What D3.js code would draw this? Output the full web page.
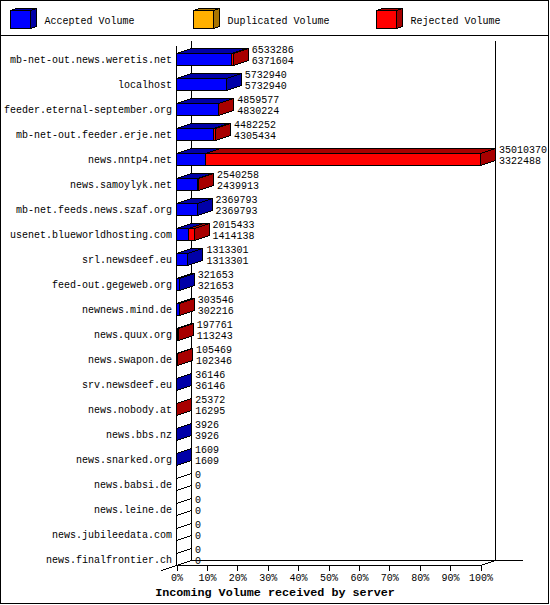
<!DOCTYPE html>
<html>
<head>
<meta charset="utf-8">
<script src="https://cdn.jsdelivr.net/npm/d3@7"></script>
<style>
  html, body { margin: 0; padding: 0; background: #fff; }
  svg { display: block; }
  text { font-family: "Liberation Mono", "DejaVu Sans Mono", monospace; font-size: 10px; fill: #000; }
</style>
</head>
<body>
<div id="grafico"></div>
<script>
const servers = ["mb-net-out.news.weretis.net", "localhost", "feeder.eternal-september.org",
                 "mb-net-out.feeder.erje.net", "news.nntp4.net", "news.samoylyk.net",
                 "mb-net.feeds.news.szaf.org", "usenet.blueworldhosting.com", "srl.newsdeef.eu",
                 "feed-out.gegeweb.org", "newnews.mind.de", "news.quux.org", "news.swapon.de",
                 "srv.newsdeef.eu", "news.nobody.at", "news.bbs.nz", "news.snarked.org",
                 "news.babsi.de", "news.leine.de", "news.jubileedata.com", "news.finalfrontier.ch"];
const totalVolume = [6533286, 5732940, 4859577, 4482252, 35010370, 2540258, 2369793, 2015433, 1313301,
                     321653, 303546, 197761, 105469, 36146, 25372, 3926, 1609, 0, 0, 0, 0];
const acceptedVolume = [6371604, 5732940, 4830224, 4305434, 3322488, 2439913, 2369793, 1414138, 1313301,
                        321653, 302216, 113243, 102346, 36146, 16295, 3926, 1609, 0, 0, 0, 0];
const legendLabels = ["Accepted Volume", "Duplicated Volume", "Rejected Volume"];
const percentTicks = [0, 10, 20, 30, 40, 50, 60, 70, 80, 90, 100];

const blue = "#0000ff", blueDark = "#0000a8", red = "#ff0000", redDark = "#a80000";
const legendColors = [[blue, blueDark], ["#ffb000", "#a87400"], [red, redDark]];

const width = 550, height = 605;
const depthX = 15, depthY = 5;

const svg = d3.select("#grafico")
              .append("svg")
              .attr("width", width)
              .attr("height", height)
              .attr("shape-rendering", "crispEdges");

const xScale = d3.scaleLinear().domain([0, 100]).range([176.5, 480.5]);
const vScale = d3.scaleLinear().domain([0, d3.max(totalVolume)]).range([176.5, 480.5]);
const yScale = d3.scaleBand().domain(servers).range([47, 572]).paddingInner(0.52).paddingOuter(0.26);

// frame and legend
svg.append("rect").attr("x", 0.5).attr("y", 0.5).attr("width", 548).attr("height", 603)
   .attr("fill", "#fff").attr("stroke", "#000");
svg.append("line").attr("x1", 0).attr("x2", 549).attr("y1", 35.5).attr("y2", 35.5).attr("stroke", "#000");

function box(g, x, y, w, h, dx, dy, front, dark) {
    g.append("path").attr("d", `M${x},${y}L${x + dx},${y - dy}L${x + w + dx},${y - dy}L${x + w},${y}Z`)
     .attr("fill", dark).attr("stroke", "#000");
    g.append("path").attr("d", `M${x + w},${y}L${x + w + dx},${y - dy}L${x + w + dx},${y + h - dy}L${x + w},${y + h}Z`)
     .attr("fill", dark).attr("stroke", "#000");
    g.append("rect").attr("x", x).attr("y", y).attr("width", w).attr("height", h)
     .attr("fill", front).attr("stroke", "#000");
}

const legendX = d3.scaleOrdinal().domain(legendLabels).range([10.5, 193.5, 376.5]);
legendLabels.forEach((label, i) => {
    const g = svg.append("g");
    box(g, legendX(label), 10.5, 20, 18, 6, 2, legendColors[i][0], legendColors[i][1]);
    g.append("text").attr("x", legendX(label) + 34).attr("y", 24).text(label);
});

// back wall and floor
const wallTop = 40.5, floorBack = 560.5, floorFront = 565.5;
const backX = xScale(0) + depthX;
svg.append("line").attr("x1", backX).attr("x2", backX).attr("y1", wallTop).attr("y2", floorBack).attr("stroke", "#000");
svg.append("line").attr("x1", xScale(100) + depthX).attr("x2", xScale(100) + depthX)
   .attr("y1", wallTop).attr("y2", floorBack).attr("stroke", "#000");
svg.append("line").attr("x1", backX).attr("x2", 523).attr("y1", floorBack).attr("y2", floorBack).attr("stroke", "#000");
svg.append("line").attr("x1", xScale(0)).attr("x2", xScale(100)).attr("y1", floorFront).attr("y2", floorFront).attr("stroke", "#000");
svg.append("line").attr("x1", xScale(0)).attr("x2", xScale(0)).attr("y1", wallTop + depthY).attr("y2", floorFront).attr("stroke", "#000");
svg.append("line").attr("x1", xScale(0) - depthX).attr("x2", backX).attr("y1", floorFront + depthY).attr("y2", floorBack)
   .attr("stroke", "#000");
svg.append("line").attr("x1", xScale(100)).attr("x2", xScale(100) + depthX).attr("y1", floorFront).attr("y2", floorBack)
   .attr("stroke", "#000");

// x axis
const xAxis = d3.axisBottom(xScale).tickValues(percentTicks).tickFormat(d => d + "%").tickSize(5).tickPadding(3);
const axisG = svg.append("g").attr("transform", `translate(0, ${floorFront})`).call(xAxis);
axisG.select(".domain").remove();
axisG.attr("font-family", null).attr("font-size", null);

// bars, zero volumes collapse to a flat outline on the left wall
servers.forEach((s, i) => {
    const total = totalVolume[i], accepted = acceptedVolume[i];
    const y = yScale(s), h = yScale.bandwidth();
    const g = svg.append("g");
    const x0 = xScale(0);
    const xA = Math.round(vScale(accepted) - 0.5) + 0.5;
    const xT = Math.round(vScale(total) - 0.5) + 0.5;
    if (total > 0) {
        box(g, x0, y, xA - x0, h, depthX, depthY, blue, blueDark);
        if (total > accepted) box(g, xA, y, xT - xA, h, depthX, depthY, red, redDark);
    } else {
        box(g, x0, y, 0, h, depthX, depthY, "none", "none");
    }
    const lx = vScale(total) + depthX + 3.5;
    g.append("text").attr("x", lx).attr("y", y - 0.5).text(total);
    g.append("text").attr("x", lx).attr("y", y + 10.5).text(accepted);
    svg.append("text").attr("x", 172).attr("y", y + 9.5).attr("text-anchor", "end").text(s);
});

svg.append("text").attr("x", 275).attr("y", 596).attr("text-anchor", "middle")
   .style("font-weight", "bold").style("font-size", "11.75px")
   .text("Incoming Volume received by server");
</script>
</body>
</html>
